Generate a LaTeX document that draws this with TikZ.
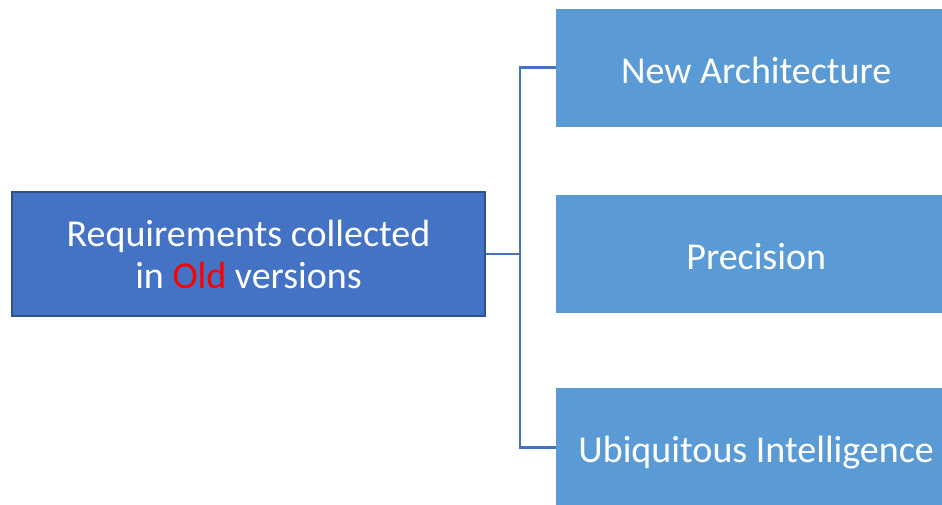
\documentclass[tikz,border=0pt]{standalone}
\usepackage{fontspec}
\setmainfont{Carlito}
\usetikzlibrary{positioning}
\definecolor{DarkBlue}{HTML}{4472C4}
\definecolor{DarkBlueEdge}{HTML}{2F528F}
\definecolor{LightBlue}{HTML}{5B9BD5}
\definecolor{OldRed}{HTML}{FF0000}
\tikzset{
    % source box on the left
    reqbox/.style={
        rectangle,
        draw=DarkBlueEdge,
        fill=DarkBlue,
        line width=2pt,
        minimum width=473pt,
        minimum height=124pt,
        align=center,
        text=white,
        font=\fontsize{38}{42}\selectfont
    },
    % target boxes on the right
    aimbox/.style={
        rectangle,
        fill=LightBlue,
        minimum width=400pt,
        minimum height=118pt,
        align=center,
        text=white,
        text height=32pt,
        text depth=1pt,
        font=\fontsize{38}{44}\selectfont
    },
    link/.style={
        draw=DarkBlue,
        line width=2.3pt
    }
}
\begin{document}
\begin{tikzpicture}[x=1pt,y=1pt]
    \useasboundingbox (0,0) rectangle (942,504);
    \clip (0,0) rectangle (942,504);
    \node[reqbox] (req) at (248.5,250) {
        Requirements collected\\
        in \textcolor{OldRed}{Old} versions
    };
    \node[aimbox, right=70pt of req.east, anchor=west] (prec) {Precision};
    \node[aimbox, above=68pt of prec] (arch) {New Architecture};
    \node[aimbox, below=75pt of prec] (ubiq) {Ubiquitous Intelligence};

    \coordinate (fork) at ([xshift=34pt]req.east);
    \draw[link] (req.east) -- (fork);
    \draw[link] (fork) |- (arch.west);
    \draw[link] (fork) |- (ubiq.west);
\end{tikzpicture}
\end{document}
